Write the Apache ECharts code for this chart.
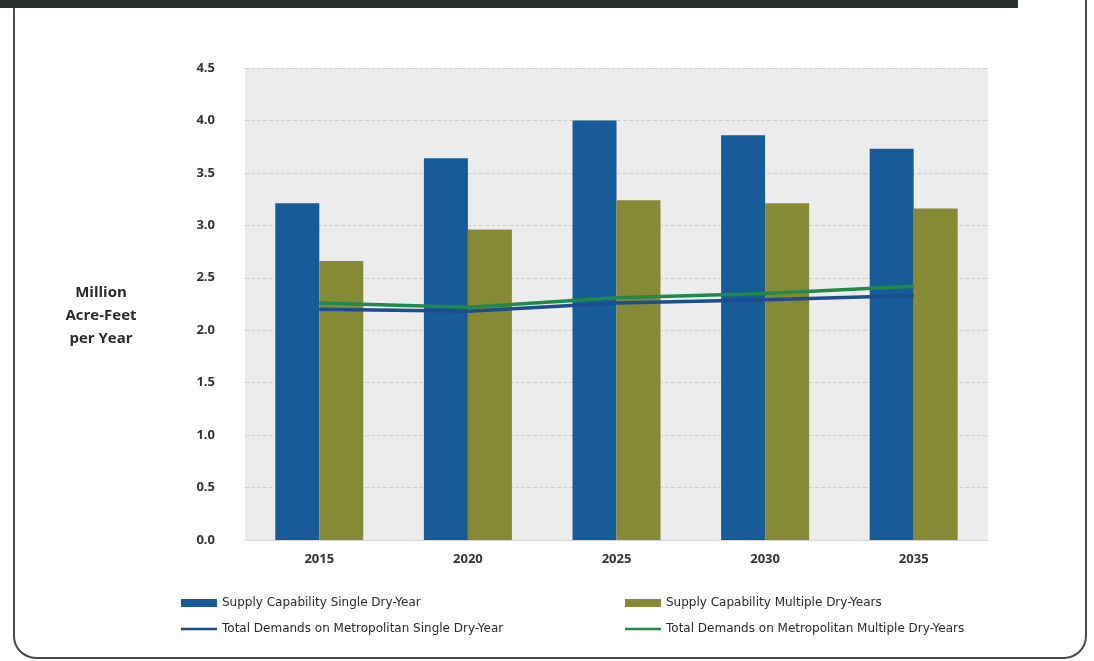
<!DOCTYPE html>
<html>
<head>
<meta charset="utf-8">
<script src="https://cdn.jsdelivr.net/npm/echarts@6/dist/echarts.min.js"></script>
<style>
html,body{margin:0;padding:0;background:#fff;}
#chart{width:1094px;height:661px;}
</style>
</head>
<body>
<div id="chart"></div>
<script>
var categories = ['2015', '2020', '2025', '2030', '2035'];
var supplySingle = [3.21, 3.64, 4.00, 3.86, 3.73];
var supplyMultiple = [2.66, 2.96, 3.24, 3.21, 3.16];
var demandSingle = [2.20, 2.18, 2.26, 2.29, 2.33];
var demandMultiple = [2.26, 2.22, 2.31, 2.35, 2.42];
var yTicks = ['0.0', '0.5', '1.0', '1.5', '2.0', '2.5', '3.0', '3.5', '4.0', '4.5'];
var seriesNames = [
  'Supply Capability Single Dry-Year',
  'Supply Capability Multiple Dry-Years',
  'Total Demands on Metropolitan Single Dry-Year',
  'Total Demands on Metropolitan Multiple Dry-Years'
];

var FONT = '"Open Sans", "DejaVu Sans", sans-serif';
var LEG_FONT = '"DejaVu Sans", sans-serif';
var LINE_ICON = 'path://M0,0 L36,0 L36,2.5 L0,2.5 Z';
var chart = echarts.init(document.getElementById('chart'));
var legendText = {fontFamily: LEG_FONT, fontSize: 12, color: '#2a2a2a'};
chart.setOption({
  backgroundColor: '#ffffff',
  animation: false,
  grid: {left: 245, right: 106, top: 68, bottom: 121, show: true,
         backgroundColor: '#ececec', borderWidth: 0},
  legend: [
    {data: [{name: seriesNames[0], icon: 'rect'}, {name: seriesNames[2], icon: LINE_ICON}],
     orient: 'vertical', left: 176, top: 592,
     itemWidth: 36, itemHeight: 8, itemGap: 14, textStyle: legendText},
    {data: [{name: seriesNames[1], icon: 'rect'}, {name: seriesNames[3], icon: LINE_ICON}],
     orient: 'vertical', left: 620, top: 592,
     itemWidth: 36, itemHeight: 8, itemGap: 14, textStyle: legendText}
  ],
  xAxis: {
    type: 'category', data: categories,
    axisLine: {show: true, lineStyle: {color: '#d8d8d8'}},
    axisTick: {show: false},
    axisLabel: {fontFamily: FONT, fontWeight: 'bold', fontSize: 13, color: '#333', margin: 13}
  },
  yAxis: {
    type: 'value', min: 0, max: 4.5, interval: 0.5,
    axisLine: {show: false}, axisTick: {show: false},
    splitLine: {show: true, lineStyle: {color: '#cfcfcf', type: 'dashed', width: 1}},
    axisLabel: {fontFamily: FONT, fontWeight: 'bold', fontSize: 13, color: '#333', margin: 30,
      formatter: function (v) { return yTicks[Math.round(v / 0.5)]; }}
  },
  series: [
    {name: seriesNames[0], type: 'bar', data: supplySingle, barWidth: 44, barGap: '0%',
     itemStyle: {color: '#175b98'}},
    {name: seriesNames[1], type: 'bar', data: supplyMultiple, barWidth: 44, barGap: '0%',
     itemStyle: {color: '#878a35'}},
    {name: seriesNames[2], type: 'line', data: demandSingle, symbol: 'none', z: 5,
     lineStyle: {color: '#1b4d8f', width: 3.5}, itemStyle: {color: '#1b4d8f'}},
    {name: seriesNames[3], type: 'line', data: demandMultiple, symbol: 'none', z: 6,
     lineStyle: {color: '#1f8a4a', width: 3.5}, itemStyle: {color: '#1f8a4a'}}
  ],
  graphic: [
    {type: 'rect', shape: {x: 14, y: -30, width: 1072, height: 688, r: 22},
     style: {fill: 'none', stroke: '#4a4a4a', lineWidth: 2}, z: 10},
    {type: 'rect', shape: {x: 0, y: 0, width: 1018, height: 8},
     style: {fill: '#2b2f2e'}, z: 11},
    {type: 'text', x: 101, y: 281, z: 10,
     style: {text: 'Million\nAcre-Feet\nper Year', fontFamily: FONT, fontWeight: 'bold',
             fontSize: 15, lineHeight: 23, fill: '#2a2a2a', textAlign: 'center'}}
  ]
});
</script>
</body>
</html>
